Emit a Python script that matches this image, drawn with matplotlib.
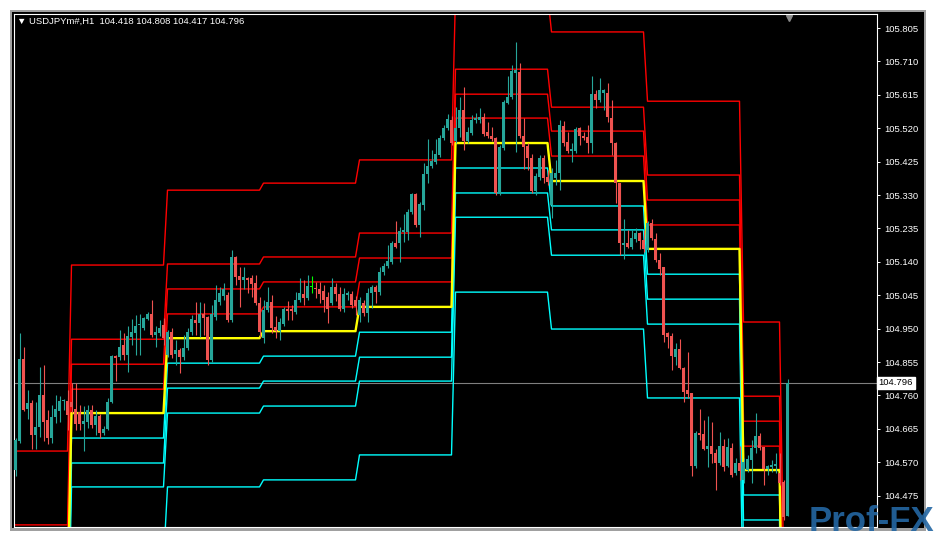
import numpy as np
import matplotlib.pyplot as plt
import matplotlib.transforms as mtransforms
from matplotlib.patches import Rectangle

# USDJPY H1 candles, oldest first
opens = [104.548, 104.630, 104.863, 104.721, 104.738, 104.648, 104.670, 104.761, 104.690, 104.639, 104.699, 104.716, 104.744, 104.744,
         104.741, 104.721, 104.713, 104.679, 104.684, 104.719, 104.676, 104.701, 104.653, 104.664, 104.741, 104.872, 104.869, 104.903, 104.875, 104.926, 104.937, 104.960, 104.952, 104.977, 104.991, 104.932, 104.937, 104.960,
         104.875, 104.940, 104.878, 104.889, 104.869, 104.895, 104.940, 104.975, 104.966, 104.991, 104.983, 104.861, 104.983, 105.025, 105.043, 105.046, 104.975, 105.154, 105.100, 105.088, 105.094, 105.094, 105.080, 105.023,
         104.923, 105.003, 105.025, 104.955, 104.943, 104.963, 105.006, 105.006, 104.997, 105.031, 105.048, 105.037, 105.068, 105.065, 105.063, 105.057, 105.040, 105.023, 105.068, 105.048, 105.006, 105.046, 105.048, 105.031,
         104.989, 105.023, 104.994, 105.051, 105.068, 105.054, 105.111, 105.128, 105.139, 105.194, 105.194, 105.225, 105.225, 105.282, 105.333, 105.245, 105.302, 105.390, 105.413, 105.424, 105.444, 105.492, 105.520, 105.543,
         105.483, 105.520, 105.572, 105.483, 105.506, 105.543, 105.543, 105.552, 105.509, 105.498, 105.492, 105.336, 105.464, 105.592, 105.609, 105.677, 105.680, 105.498, 105.469, 105.435, 105.341, 105.381, 105.435, 105.381,
         105.302, 105.379, 105.393, 105.526, 105.481, 105.455, 105.455, 105.520, 105.498, 105.495, 105.478, 105.617, 105.600, 105.620, 105.620, 105.549, 105.478, 105.364, 105.188, 105.194, 105.182, 105.205, 105.222, 105.202,
         105.174, 105.250, 105.205, 105.145, 105.125, 104.937, 104.929, 104.869, 104.892, 104.838, 104.775, 104.767, 104.559, 104.653, 104.650, 104.607, 104.616, 104.596, 104.567, 104.616, 104.559, 104.610, 104.539, 104.567,
         104.520, 104.548, 104.576, 104.610, 104.645, 104.613, 104.550, 104.556, 104.559, 104.539, 104.514, 104.418]
highs = [104.639, 104.937, 104.898, 104.775, 104.747, 104.741, 104.841, 104.847, 104.719, 104.733, 104.761, 104.758, 104.750, 104.775,
         104.795, 104.795, 104.733, 104.730, 104.733, 104.733, 104.719, 104.708, 104.673, 104.752, 104.875, 104.875, 104.946, 104.937, 104.957, 104.977, 104.989, 104.991, 104.983, 104.997, 105.031, 104.957, 104.975, 104.980,
         104.946, 104.952, 104.918, 104.895, 104.932, 104.952, 104.989, 105.025, 105.025, 105.023, 104.986, 105.017, 105.074, 105.068, 105.080, 105.054, 105.174, 105.157, 105.125, 105.125, 105.097, 105.103, 105.103, 105.040,
         105.031, 105.068, 105.046, 104.986, 104.980, 105.011, 105.028, 105.017, 105.054, 105.094, 105.088, 105.103, 105.100, 105.083, 105.083, 105.074, 105.054, 105.094, 105.080, 105.068, 105.065, 105.057, 105.057, 105.043,
         105.040, 105.031, 105.065, 105.074, 105.074, 105.125, 105.137, 105.188, 105.199, 105.256, 105.239, 105.276, 105.290, 105.336, 105.336, 105.310, 105.421, 105.489, 105.458, 105.489, 105.500, 105.529, 105.560, 105.554,
         105.580, 105.609, 105.637, 105.523, 105.557, 105.563, 105.577, 105.563, 105.538, 105.523, 105.495, 105.472, 105.600, 105.668, 105.700, 105.765, 105.706, 105.549, 105.478, 105.447, 105.393, 105.444, 105.444, 105.401,
         105.407, 105.430, 105.543, 105.540, 105.509, 105.478, 105.523, 105.523, 105.509, 105.529, 105.668, 105.629, 105.663, 105.632, 105.649, 105.600, 105.481, 105.364, 105.262, 105.231, 105.231, 105.236, 105.225, 105.231,
         105.256, 105.262, 105.222, 105.165, 105.125, 104.940, 104.937, 104.909, 104.920, 104.841, 104.883, 104.767, 104.659, 104.721, 104.690, 104.701, 104.684, 104.607, 104.656, 104.636, 104.639, 104.624, 104.582, 104.616,
         104.582, 104.590, 104.633, 104.710, 104.653, 104.613, 104.562, 104.576, 104.596, 104.596, 104.520, 104.808]
lows = [104.531, 104.624, 104.716, 104.693, 104.607, 104.607, 104.642, 104.630, 104.622, 104.624, 104.681, 104.684, 104.719, 104.662,
        104.710, 104.662, 104.662, 104.602, 104.667, 104.667, 104.648, 104.639, 104.648, 104.662, 104.738, 104.801, 104.861, 104.861, 104.826, 104.903, 104.875, 104.875, 104.946, 104.975, 104.926, 104.898, 104.929, 104.903,
        104.869, 104.866, 104.847, 104.824, 104.861, 104.889, 104.932, 104.932, 104.926, 104.932, 104.847, 104.855, 104.975, 105.017, 105.031, 104.969, 104.969, 105.074, 105.011, 105.063, 105.051, 105.040, 105.017, 104.926,
        104.909, 104.997, 104.937, 104.923, 104.918, 104.957, 104.975, 104.975, 104.991, 105.025, 105.017, 105.031, 105.051, 105.037, 105.023, 104.997, 104.966, 105.017, 105.028, 105.000, 104.997, 105.031, 105.008, 104.989,
        104.969, 104.986, 104.969, 105.008, 105.023, 105.046, 105.103, 105.122, 105.134, 105.179, 105.139, 105.196, 105.202, 105.276, 105.239, 105.211, 105.287, 105.364, 105.407, 105.418, 105.438, 105.486, 105.515, 105.472,
        105.478, 105.495, 105.458, 105.478, 105.500, 105.535, 105.535, 105.498, 105.492, 105.483, 105.330, 105.330, 105.458, 105.589, 105.603, 105.452, 105.492, 105.404, 105.401, 105.336, 105.330, 105.373, 105.364, 105.358,
        105.265, 105.358, 105.344, 105.469, 105.450, 105.424, 105.450, 105.472, 105.486, 105.450, 105.450, 105.577, 105.595, 105.572, 105.538, 105.444, 105.307, 105.159, 105.148, 105.179, 105.176, 105.196, 105.176, 105.168,
        105.168, 105.202, 105.139, 105.103, 104.912, 104.895, 104.832, 104.847, 104.835, 104.741, 104.752, 104.531, 104.553, 104.633, 104.605, 104.556, 104.567, 104.491, 104.562, 104.545, 104.556, 104.528, 104.533, 104.520,
        104.511, 104.542, 104.511, 104.596, 104.605, 104.505, 104.533, 104.542, 104.539, 104.505, 104.406, 104.417]
closes = [104.633, 104.863, 104.719, 104.738, 104.648, 104.670, 104.761, 104.684, 104.639, 104.699, 104.721, 104.744, 104.745, 104.705,
          104.727, 104.679, 104.679, 104.687, 104.719, 104.676, 104.701, 104.653, 104.664, 104.741, 104.872, 104.866, 104.898, 104.875, 104.929, 104.940, 104.957, 104.963, 104.980, 104.991, 104.932, 104.940, 104.952, 104.923,
          104.940, 104.875, 104.889, 104.869, 104.895, 104.940, 104.977, 104.966, 104.991, 104.980, 104.861, 104.991, 105.031, 105.051, 105.063, 104.975, 105.154, 105.097, 105.088, 105.097, 105.088, 105.077, 105.023, 104.940,
          105.003, 105.025, 104.952, 104.943, 104.969, 105.006, 105.000, 105.000, 105.031, 105.051, 105.037, 105.071, 105.068, 105.063, 105.048, 105.031, 105.006, 105.068, 105.048, 105.006, 105.048, 105.051, 105.017, 105.014,
          105.031, 104.994, 105.051, 105.068, 105.054, 105.111, 105.128, 105.142, 105.194, 105.182, 105.228, 105.231, 105.282, 105.333, 105.245, 105.305, 105.390, 105.413, 105.427, 105.447, 105.492, 105.520, 105.546, 105.478,
          105.520, 105.572, 105.483, 105.509, 105.543, 105.549, 105.552, 105.504, 105.498, 105.489, 105.336, 105.466, 105.595, 105.609, 105.683, 105.686, 105.498, 105.466, 105.435, 105.341, 105.384, 105.435, 105.379, 105.367,
          105.393, 105.393, 105.529, 105.478, 105.455, 105.461, 105.518, 105.498, 105.492, 105.478, 105.617, 105.600, 105.629, 105.629, 105.552, 105.478, 105.364, 105.194, 105.194, 105.182, 105.208, 105.222, 105.199, 105.176,
          105.250, 105.208, 105.145, 105.119, 104.932, 104.926, 104.872, 104.892, 104.838, 104.770, 104.764, 104.559, 104.653, 104.648, 104.607, 104.616, 104.593, 104.567, 104.616, 104.556, 104.613, 104.533, 104.567, 104.545,
          104.570, 104.579, 104.610, 104.645, 104.610, 104.550, 104.559, 104.562, 104.565, 104.511, 104.414, 104.796]

# daily pivot levels; one value per segment (partial first day, 7 full days, current day, last two bars)
seg_bars = [14, 24, 24, 24, 24, 24, 24, 24, 10, 2]
r4 = [104.602, 105.131, 105.344, 105.364, 105.430, 105.902, 105.794, 105.597, 104.969, 104.300]
r3 = [104.392, 104.920, 105.134, 105.154, 105.222, 105.688, 105.580, 105.387, 104.758, 104.090]
r2 = [104.320, 104.849, 105.063, 105.083, 105.151, 105.617, 105.512, 105.316, 104.687, 104.020]
r1 = [104.249, 104.778, 104.992, 105.012, 105.083, 105.549, 105.441, 105.245, 104.616, 103.950]
pp = [104.178, 104.710, 104.923, 104.943, 105.012, 105.478, 105.370, 105.177, 104.548, 103.880]
s1 = [104.107, 104.639, 104.852, 104.872, 104.940, 105.407, 105.299, 105.105, 104.477, 103.810]
s2 = [104.036, 104.568, 104.781, 104.801, 104.869, 105.336, 105.231, 105.034, 104.406, 103.740]
s3 = [103.965, 104.500, 104.710, 104.730, 104.801, 105.267, 105.159, 104.963, 104.335, 103.670]
s4 = [103.754, 104.286, 104.500, 104.520, 104.591, 105.054, 104.949, 104.753, 104.124, 103.460]

y_ticks = [104.475, 104.570, 104.665, 104.760, 104.855, 104.950, 105.045, 105.140,
           105.235, 105.330, 105.425, 105.520, 105.615, 105.710, 105.805]
last_price = 104.796
title = "USDJPYm#,H1  104.418 104.808 104.417 104.796"

BULL = '#26a69a'
BEAR = '#ef5350'
DOJI = '#00ff00'

o = np.array(opens)
h = np.array(highs)
l = np.array(lows)
c = np.array(closes)
assert len(o) == len(h) == len(l) == len(c) == sum(seg_bars)
idx = np.arange(len(o))

fig = plt.figure(figsize=(9.36, 5.37), dpi=100, facecolor='white')
W, H = 936, 537

# terminal window frame
fig.patches.append(Rectangle((10 / W, 1 - 531 / H), 916 / W, 521 / H, transform=fig.transFigure,
                             facecolor='#a0a0a0', edgecolor='none', zorder=-10))
fig.patches.append(Rectangle((12 / W, 1 - 528 / H), 912 / W, 516 / H, transform=fig.transFigure,
                             facecolor='black', edgecolor='none', zorder=-9))

ax = fig.add_axes([14 / W, 1 - 527 / H, 863 / W, 513 / H])
ax.set_zorder(1)
ax.set_facecolor('black')
ax.set_xlim(-0.375, 215.375)
ax.set_ylim(104.386, 105.845)

# pivot lines
for lev, col, lw in [(r4, '#ff0000', 1.0), (r3, '#ff0000', 1.0), (r2, '#ff0000', 1.0), (r1, '#ff0000', 1.0),
                     (s1, '#00ffff', 1.0), (s2, '#00ffff', 1.0), (s3, '#00ffff', 1.0), (s4, '#00ffff', 1.0),
                     (pp, '#ffff00', 1.7)]:
    ax.plot(idx, np.repeat(lev, seg_bars), color=col, lw=lw, zorder=2)

ax.axhline(last_price, color='#7f7f7f', lw=0.8, zorder=1)

# candles
cols = np.where(c > o, BULL, np.where(c < o, BEAR, DOJI))
ax.vlines(idx, l, h, colors=cols, lw=0.8, zorder=3)
ax.bar(idx, np.maximum(np.abs(c - o), 0.0025), bottom=np.minimum(o, c), width=0.75,
       color=cols, lw=0, zorder=4)

# axes styling
for sp in ax.spines.values():
    sp.set_color('white')
    sp.set_linewidth(0.8)
ax.set_xticks([])
ax.yaxis.tick_right()
ax.set_yticks(y_ticks)
ax.set_yticklabels([f'{v:.3f}' for v in y_ticks])
ax.tick_params(axis='y', colors='white', labelsize=6.8, length=2.5, width=0.7, pad=2.5,
               labelfontfamily='Liberation Sans')

tr = mtransforms.blended_transform_factory(ax.transAxes, ax.transData)
ax.text(1.002, last_price, f'{last_price:.3f}', transform=tr, ha='left', va='center',
        fontsize=6.8, family='Liberation Sans', color='black', zorder=10,
        bbox=dict(boxstyle='square,pad=0.18', facecolor='white', edgecolor='white'))

# chart shift marker
tr2 = mtransforms.blended_transform_factory(ax.transData, ax.transAxes)
ax.plot([idx[-1] + 0.4], [0.993], marker='v', color='#8a8a8a', ms=5, transform=tr2, clip_on=False)

fig.text(17 / W, 1 - 21 / H, '\u25bc ' + title, color='white', fontsize=6.8,
         family=['Liberation Sans', 'DejaVu Sans'], ha='left', va='center', zorder=5)

# watermark
fig.text(934 / W, 1 - 531 / H, 'Prof-FX', color='#2467a3', alpha=0.9, fontsize=25,
         fontweight='bold', family='Liberation Sans', ha='right', va='baseline', zorder=20)

fig.savefig('out.png', dpi=100, facecolor='white')
